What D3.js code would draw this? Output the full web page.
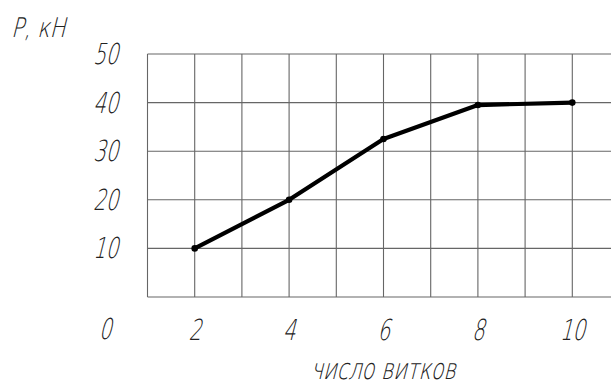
<!DOCTYPE html>
<html>
<head>
<meta charset="utf-8">
<script src="https://cdn.jsdelivr.net/npm/d3@7"></script>
<style>
  html, body { margin: 0; padding: 0; background: #fff; }
  svg { display: block; }
  text { font-family: "DejaVu Sans", sans-serif; font-weight: 200; fill: #222; }
</style>
</head>
<body>
<svg id="chart" width="611" height="385"></svg>
<script>
// ---- data ----
const turns = [2, 4, 6, 8, 10];
const force = [10, 20, 32.5, 39.5, 40];
const xTickLabels = [2, 4, 6, 8, 10];
const yTickLabels = [10, 20, 30, 40, 50];
const xGrid = [1, 2, 3, 4, 5, 6, 7, 8, 9, 10];
const yGrid = [0, 10, 20, 30, 40, 50];
const yTitle = "P, кН";
const xTitle = "число витков";

const W = 611, H = 385;
const svg = d3.select("#chart");

const x = d3.scaleLinear().domain([1, 10]).range([147.5, 572.3]);
const y = d3.scaleLinear().domain([0, 50]).range([297, 54]);

// grid
const g = svg.append("g");
g.selectAll("line.v").data(xGrid).enter().append("line")
  .attr("x1", d => x(d)).attr("x2", d => x(d))
  .attr("y1", y(50)).attr("y2", y(0))
  .attr("stroke", "#666").attr("stroke-width", 1.1);
g.selectAll("line.h").data(yGrid).enter().append("line")
  .attr("x1", x(1)).attr("x2", W)
  .attr("y1", d => y(d)).attr("y2", d => y(d))
  .attr("stroke", "#666").attr("stroke-width", 1.1);

// data line
const pts = turns.map((t, i) => [t, force[i]]);
svg.append("path").datum(pts)
  .attr("d", d3.line().x(d => x(d[0])).y(d => y(d[1])))
  .attr("fill", "none").attr("stroke", "#000").attr("stroke-width", 4.2)
  .attr("stroke-linejoin", "round");
svg.selectAll("circle").data(pts).enter().append("circle")
  .attr("cx", d => x(d[0])).attr("cy", d => y(d[1])).attr("r", 3.3).attr("fill", "#000");

// text helper: narrow, slanted
function label(px, py, str, size, anchor, sx) {
  return svg.append("g").attr("transform", `translate(${px},${py}) skewX(-14) scale(${sx || 0.68},1)`)
    .append("text").attr("x", 0).attr("y", 0)
    .attr("font-size", size).attr("text-anchor", anchor).text(str);
}

yTickLabels.forEach(v => label(118, y(v) + 10, String(v), 29, "end"));
label(105, 339, "0", 29, "middle");
xTickLabels.forEach(v => label(x(v), 340, String(v), 29, "middle"));
label(11, 37, yTitle, 27, "start", 0.78);
label(383, 379, xTitle, 29, "middle", 0.72);
</script>
</body>
</html>
